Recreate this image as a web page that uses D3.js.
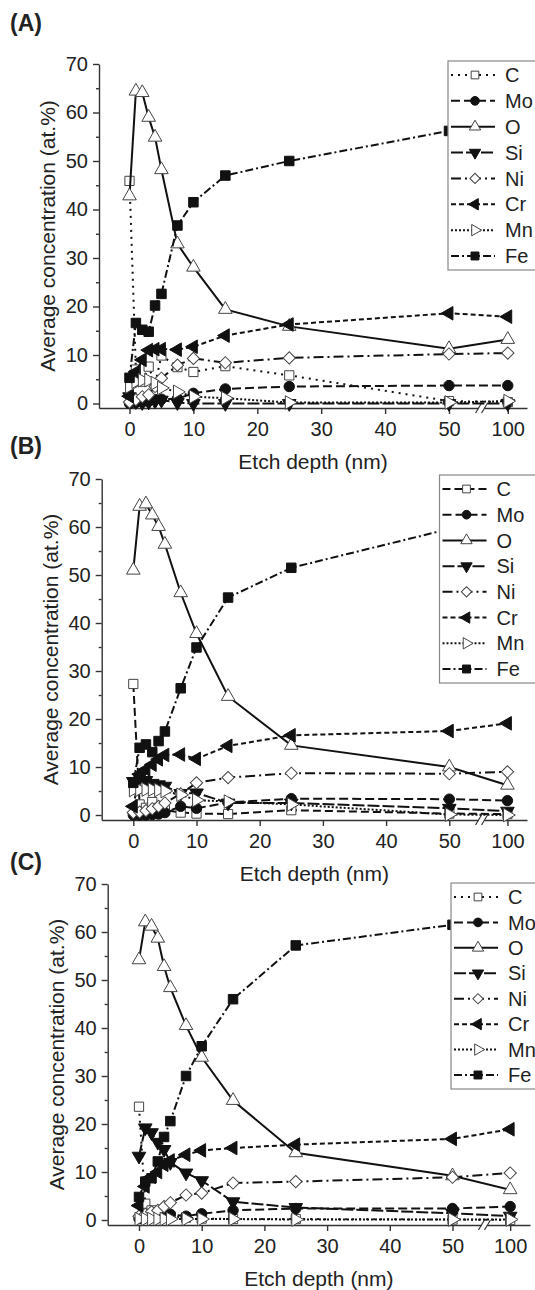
<!DOCTYPE html>
<html>
<head>
<meta charset="utf-8">
<script src="https://cdn.jsdelivr.net/npm/d3@7"></script>
<style>
  body { margin: 0; background: #fff; }
  text { font-family: "Liberation Sans", Arial, sans-serif; fill: #222; }
</style>
</head>
<body>
<svg id="chart" width="535" height="1290"></svg>
<script>
// etch depths (nm) shared by all three panels
var depths = [0, 1, 2, 3, 4, 5, 7.5, 10, 15, 25, 50, 100];
var elements = ["C", "Mo", "O", "Si", "Ni", "Cr", "Mn", "Fe"];
var yTicks = [0, 10, 20, 30, 40, 50, 60, 70];
var yMinor = [5, 15, 25, 35, 45, 55, 65];
var xTicks = [0, 10, 20, 30, 40, 50, 100];

// panel (A)
var aC  = [45.9, 7.0, 4.5, 7.6, 4.0, 9.9, 7.5, 6.5, 7.7, 5.8, 0.5, 0.3];
var aMo = [0, 0.2, 0.3, 0.5, 0.8, 0.9, 1.0, 2.1, 3.0, 3.5, 3.7, 3.7];
var aO  = [42.8, 64.4, 64.1, 59.0, 54.9, 48.2, 32.9, 28.1, 19.4, 15.9, 11.3, 13.2];
var aSi = [1.4, 0.4, 0.2, 0.3, 0.5, 0.7, 0.2, 0, 0, 0, 0, 0];
var aNi = [0.3, 0.8, 1.4, 1.8, 3.5, 5.2, 7.9, 9.3, 8.4, 9.4, 10.2, 10.4];
var aCr = [1.5, 6.5, 9.0, 11.0, 11.2, 11.2, 11.1, 11.7, 14.0, 16.3, 18.6, 17.9];
var aMn = [3.5, 4.5, 4.8, 4.8, 4.2, 3.2, 2.4, 1.4, 1.1, 0.2, 0.2, 0.5];
var aFe = [5.3, 16.6, 15.2, 14.8, 20.2, 22.6, 36.7, 41.5, 47.0, 50.0, 56.2, 58.5];

// panel (B)
var bC  = [27.3, 2.2, 1.5, 2.7, 1.5, 1.0, 0.5, 0.3, 0.2, 1.0, 0.3, 0.2];
var bMo = [0, 0, 0, 0.1, 0.2, 0.5, 1.8, 1.4, 2.6, 3.4, 3.3, 3.0];
var bO  = [51.0, 64.3, 64.8, 62.5, 60.1, 56.4, 46.3, 37.8, 24.7, 14.5, 10.0, 6.2];
var bSi = [7.0, 7.8, 7.2, 6.6, 6.3, 6.0, 4.5, 4.6, 2.5, 2.5, 1.4, 0.8];
var bNi = [0.5, 0.6, 0.9, 1.3, 1.8, 2.5, 4.4, 6.7, 7.8, 8.7, 8.6, 9.0];
var bCr = [1.8, 8.5, 9.5, 10.5, 11.6, 12.5, 12.6, 11.7, 14.4, 16.6, 17.5, 19.1];
var bMn = [5.2, 5.3, 5.3, 5.3, 5.2, 5.0, 4.2, 3.1, 2.8, 2.2, 0.1, 0];
var bFe = [6.7, 14.0, 14.7, 13.1, 15.4, 17.4, 26.4, 34.9, 45.3, 51.5, 59.6, 62.0];

// panel (C)
var cC  = [23.6, 3.4, 2.0, 1.5, 1.0, 0.8, 0.5, 0.3, 0.2, 0.2, 0.1, 0];
var cMo = [0.3, 0.5, 0.6, 0.8, 1.0, 1.2, 0.8, 1.3, 2.0, 2.4, 2.4, 2.8];
var cO  = [54.2, 62.1, 61.2, 58.7, 52.8, 48.4, 40.5, 33.9, 24.9, 14.0, 9.2, 6.3];
var cSi = [13.3, 19.2, 18.2, 16.2, 14.7, 12.0, 9.8, 8.2, 3.8, 2.6, 1.4, 0.8];
var cNi = [0.8, 1.2, 1.7, 2.0, 2.8, 3.6, 5.2, 5.6, 7.7, 8.0, 8.9, 9.8];
var cCr = [3.0, 7.0, 9.0, 10.0, 11.5, 12.4, 13.6, 14.5, 15.0, 15.7, 16.9, 18.9];
var cMn = [0.2, 0.2, 0.2, 0.2, 0.2, 0.2, 0.2, 0.2, 0.2, 0.1, 0.1, 0.1];
var cFe = [4.8, 8.0, 8.7, 12.2, 17.3, 20.6, 30.0, 36.2, 46.0, 57.2, 61.5, 63.0];

// marker + line style per element
var styles = {
  C:  {sym: d3.symbolSquare,   rot: 0,   fill: false, dash: "2,5",      size: 85},
  Mo: {sym: d3.symbolCircle,   rot: 0,   fill: true,  dash: "9,4",      size: 85},
  O:  {sym: d3.symbolTriangle, rot: 0,   fill: false, dash: null,       size: 80},
  Si: {sym: d3.symbolTriangle, rot: 180, fill: true,  dash: "12,3",     size: 80},
  Ni: {sym: d3.symbolSquare,   rot: 45,  fill: false, dash: "10,4,2,4", size: 75},
  Cr: {sym: d3.symbolTriangle, rot: -90, fill: true,  dash: "5,3",      size: 80},
  Mn: {sym: d3.symbolTriangle, rot: 90,  fill: false, dash: "2,2",      size: 80},
  Fe: {sym: d3.symbolSquare,   rot: 0,   fill: true,  dash: "8,3,2,3",  size: 90}
};

var panels = [
  {label: "(A)", labelY: 31, axisX: 99, x0: 129.5, k: 6.39, y0: 403.5, ky: 4.85, axisY: 408, right: 527,
   legX: 448, legY: 61, legH: 209, cDash: "2,5",
   series: {C: aC, Mo: aMo, O: aO, Si: aSi, Ni: aNi, Cr: aCr, Mn: aMn, Fe: aFe}},
  {label: "(B)", labelY: 454, axisX: 101.7, x0: 133.3, k: 6.32, y0: 815, ky: 4.8, axisY: 820, right: 527,
   legX: 439.5, legY: 475, legH: 208, cDash: "8,4",
   series: {C: bC, Mo: bMo, O: bO, Si: bSi, Ni: bNi, Cr: bCr, Mn: bMn, Fe: bFe}},
  {label: "(C)", labelY: 870, axisX: 107.7, x0: 139, k: 6.27, y0: 1220, ky: 4.8, axisY: 1225, right: 530,
   legX: 451, legY: 883, legH: 206, cDash: "2,5",
   series: {C: cC, Mo: cMo, O: cO, Si: cSi, Ni: cNi, Cr: cCr, Mn: cMn, Fe: cFe}}
];

var svg = d3.select("#chart");

function symbolPath(el, scale) {
  var s = styles[el];
  return d3.symbol().type(s.sym).size(s.size * (scale || 1))();
}

panels.forEach(function(p) {
  var g = svg.append("g");

  // broken x axis: 0..55 linear, then a gap, then 96..end around 100
  var xMin = -(p.x0 - p.axisX) / p.k;
  var xBreak = p.x0 + 55 * p.k;
  var xAfter = p.x0 + 55.2 * p.k;
  var xMax = 96 + (p.right - xAfter) / p.k;
  var x = d3.scaleLinear()
      .domain([xMin, 55, 96, xMax])
      .range([p.axisX, xBreak, xAfter, p.right]);

  var yMin = -(p.axisY - p.y0) / p.ky;
  var y = d3.scaleLinear()
      .domain([yMin, 70])
      .range([p.axisY, p.y0 - 70 * p.ky]);

  // axes
  g.append("g")
      .attr("transform", "translate(" + p.axisX + ",0)")
      .call(d3.axisLeft(y).tickValues(yTicks).tickSize(6).tickPadding(5).tickSizeOuter(0));
  g.append("g")
      .attr("transform", "translate(" + p.axisX + ",0)")
      .call(d3.axisLeft(y).tickValues(yMinor).tickSize(3).tickFormat("").tickSizeOuter(0))
      .select(".domain").remove();

  g.append("g")
      .attr("transform", "translate(0," + p.axisY + ")")
      .call(d3.axisBottom(x).tickValues(xTicks).tickSize(6).tickPadding(7.5).tickSizeOuter(0));

  g.selectAll(".domain, .tick line").attr("stroke", "#333").attr("stroke-width", 1.4);
  g.selectAll(".tick text").attr("font-size", 20).attr("font-family", null);

  // axis break marks
  var bx = (xBreak + xAfter) / 2;
  g.append("rect").attr("x", bx - 3).attr("y", p.axisY - 2).attr("width", 6).attr("height", 4).attr("fill", "#fff");
  [-3, 3].forEach(function(o) {
    g.append("line")
        .attr("x1", bx + o - 3).attr("y1", p.axisY + 5)
        .attr("x2", bx + o + 3).attr("y2", p.axisY - 5)
        .attr("stroke", "#333").attr("stroke-width", 1.2);
  });

  // titles
  g.append("text")
      .attr("x", 10).attr("y", p.labelY)
      .attr("font-size", 23).attr("font-weight", "bold")
      .text(p.label);
  g.append("text")
      .attr("x", (p.axisX + p.right) / 2).attr("y", p.axisY + 61)
      .attr("text-anchor", "middle").attr("font-size", 21)
      .text("Etch depth (nm)");
  g.append("text")
      .attr("transform", "translate(" + (p.axisX - 44) + "," + ((p.axisY + y(70)) / 2) + ") rotate(-90)")
      .attr("text-anchor", "middle").attr("font-size", 21)
      .text("Average concentration (at.%)");

  // series
  var line = d3.line()
      .x(function(d) { return x(d[0]); })
      .y(function(d) { return y(d[1]); });

  elements.forEach(function(el) {
    var s = styles[el];
    var pts = depths.map(function(d, i) { return [d, p.series[el][i]]; });
    var dash = el === "C" ? p.cDash : s.dash;
    g.append("path")
        .datum(pts)
        .attr("d", line)
        .attr("fill", "none")
        .attr("stroke", "#111")
        .attr("stroke-width", 2)
        .attr("stroke-dasharray", dash);
    g.selectAll(".m-" + el)
      .data(pts)
      .enter().append("path")
        .attr("class", "m-" + el)
        .attr("d", symbolPath(el))
        .attr("transform", function(d) {
          return "translate(" + x(d[0]) + "," + y(d[1]) + ") rotate(" + s.rot + ")";
        })
        .attr("fill", s.fill ? "#111" : "#fff")
        .attr("stroke", s.fill ? "#111" : "#444")
        .attr("stroke-width", 1);
  });

  // legend
  var leg = g.append("g");
  leg.append("rect")
      .attr("x", p.legX).attr("y", p.legY)
      .attr("width", 120).attr("height", p.legH)
      .attr("fill", "#fff").attr("stroke", "#888").attr("stroke-width", 1.2);
  var rowH = (p.legH - 28) / 7;
  elements.forEach(function(el, i) {
    var s = styles[el];
    var ry = p.legY + 14 + i * rowH;
    leg.append("line")
        .attr("x1", p.legX + 3).attr("x2", p.legX + 47)
        .attr("y1", ry).attr("y2", ry)
        .attr("stroke", "#111").attr("stroke-width", 2)
        .attr("stroke-dasharray", el === "C" ? p.cDash : s.dash);
    leg.append("path")
        .attr("d", symbolPath(el, 0.7))
        .attr("transform", "translate(" + (p.legX + 27) + "," + ry + ") rotate(" + s.rot + ")")
        .attr("fill", s.fill ? "#111" : "#fff")
        .attr("stroke", s.fill ? "#111" : "#444");
    leg.append("text")
        .attr("x", p.legX + 57).attr("y", ry)
        .attr("dy", "0.36em").attr("font-size", 20)
        .text(el);
  });
});
</script>
</body>
</html>
